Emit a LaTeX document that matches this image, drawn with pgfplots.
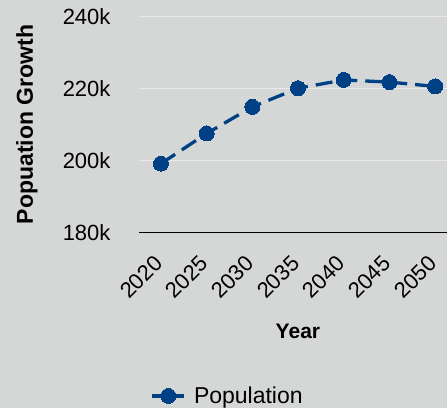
\documentclass[border=0pt]{standalone}
\usepackage{fontspec}
\setmainfont{Liberation Sans}
\usepackage{pgfplots}
\pgfplotsset{compat=1.18}
\definecolor{bgcol}{RGB}{213,215,214}
\definecolor{popblue}{RGB}{0,64,133}
\definecolor{gridcol}{RGB}{234,234,234}
\begin{document}
\begin{tikzpicture}
\fill[bgcol,use as bounding box] (0,0) rectangle (447pt,408pt);
\begin{axis}[
  at={(139pt,175.7pt)}, anchor=south west,
  width=308pt, height=215.6pt, scale only axis,
  xmin=2017.6, xmax=2051.3,
  ymin=180000, ymax=240000,
  scaled y ticks=false,
  axis x line*=bottom, axis y line*=left,
  x axis line style={black, line width=1.6pt, -},
  y axis line style={draw=none},
  xtick={2020,2025,2030,2035,2040,2045,2050},
  xticklabels={2020,2025,2030,2035,2040,2045,2050},
  ytick={180000,200000,220000,240000},
  yticklabels={180k,200k,220k,240k},
  major tick length=0pt,
  ymajorgrids, grid style={gridcol, line width=1.3pt},
  xticklabel style={font=\fontsize{22}{22}\selectfont, rotate=45, anchor=east},
  xticklabel shift=25pt,
  yticklabel style={font=\fontsize{22}{22}\selectfont, anchor=east},
  yticklabel shift=25pt,
  xlabel={Year},
  ylabel={Popuation Growth},
  xlabel style={font=\fontsize{21}{21}\selectfont\bfseries, at={(axis description cs:0.516,-0.458)}, anchor=center},
  ylabel style={font=\fontsize{23}{23}\selectfont\bfseries, at={(axis description cs:-0.364,0.5)}, anchor=center, rotate=0},
  legend style={at={(axis description cs:0.288,-0.759)}, anchor=center, draw=none, fill=none,
    font=\fontsize{23}{23}\selectfont, /tikz/every odd column/.style={column sep=6pt}},
  legend image code/.code={\draw[mark repeat=2,mark phase=2,#1,solid] plot coordinates {(0pt,0pt) (16pt,0pt) (32pt,0pt)};},
  clip=false,
]
\addplot[popblue, line width=3.3pt, dash pattern=on 17pt off 8pt,
  mark=*, mark size=7.5pt, mark options={solid, fill=popblue, draw=popblue, line width=0pt}]
  coordinates {
  (2020,199100) (2025,207500) (2030,214900) (2035,220100)
  (2040,222400) (2045,221800) (2050,220600)
};
\addlegendentry{Population}
\end{axis}
\end{tikzpicture}
\end{document}
